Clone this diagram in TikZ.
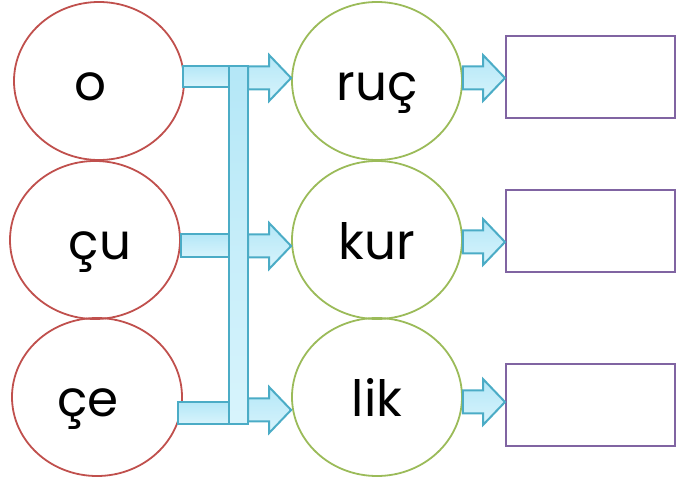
\documentclass[tikz,border=0pt]{standalone}
\usepackage{fontspec}
\setmainfont{Poppins}
\usetikzlibrary{positioning, shapes.geometric, calc}

\definecolor{ringred}{HTML}{C0504D}
\definecolor{ringgreen}{HTML}{9BBB59}
\definecolor{boxpurple}{HTML}{8064A2}
\definecolor{barline}{HTML}{4BACC6}
\definecolor{bartop}{HTML}{B4E7F7}
\definecolor{barbottom}{HTML}{D8F4FC}

\tikzset{
    ring/.style={ellipse, minimum width=170pt, minimum height=158pt, line width=1.8pt,
        text height=40pt, text depth=0pt, font=\fontsize{50}{60}\selectfont},
    answer/.style={rectangle, draw=boxpurple, line width=2pt, minimum width=169pt, minimum height=82pt},
    bar/.style={draw=barline, line width=2pt, top color=bartop, bottom color=barbottom, line join=miter}
}

% block arrow, horizontal, at the height of the tip
\newcommand{\fatarrow}[2]{%
    \draw[bar] let \p1=(#1), \p2=(#2) in
        (\x1,\y2+11.5pt) -- (\x2-22pt,\y2+11.5pt) -- (\x2-22pt,\y2+23pt) -- (\x2,\y2)
        -- (\x2-22pt,\y2-23pt) -- (\x2-22pt,\y2-11.5pt) -- (\x1,\y2-11.5pt) -- cycle;}

\begin{document}
\begin{tikzpicture}[x=1pt, y=1pt]

    \useasboundingbox (0,0) rectangle (689,488);

    \node[ring, draw=ringred] (o) at (99,407) {o\hspace*{18pt}};
    \node[ring, draw=ringred] (cu) at (95,248) {\hspace*{10pt}çu};
    \node[ring, draw=ringred] (ce) at (97,91) {çe\hspace*{18pt}};

    \node[ring, draw=ringgreen] (ruc) at (377,407) {ruç};
    \node[ring, draw=ringgreen] (kur) at (377,248) {kur};
    \node[ring, draw=ringgreen] (lik) at (377,91) {lik};

    \node[answer] (b1) at (590.5,411) {};
    \node[answer] (b2) at (590.5,257) {};
    \node[answer] (b3) at (590.5,83) {};

    \path (238.5,243) node[minimum width=19pt, minimum height=358pt, inner sep=0pt] (spine) {};

    \draw[bar] ($(o.east)+(-2,15)$) rectangle ($(spine.west |- o.east)+(0,-6)$);
    \draw[bar] ($(cu.east)+(0,6)$) rectangle ($(spine.west |- cu.east)+(0,-17)$);
    \draw[bar] ($(ce.east)+(-5,-5)$) rectangle ($(spine.west |- ce.east)+(0,-27)$);
    \draw[bar] (spine.south west) rectangle (spine.north east);

    \fatarrow{spine.east}{$(ruc.west)+(0,3)$}
    \fatarrow{spine.east}{$(kur.west)+(0,-6)$}
    \fatarrow{spine.east}{$(lik.west)+(0,-13)$}

    \fatarrow{ruc.east}{$(b1.west)+(0,-1)$}
    \fatarrow{kur.east}{$(b2.west)+(0,-11)$}
    \fatarrow{lik.east}{$(b3.west)+(0,3)$}

\end{tikzpicture}
\end{document}
